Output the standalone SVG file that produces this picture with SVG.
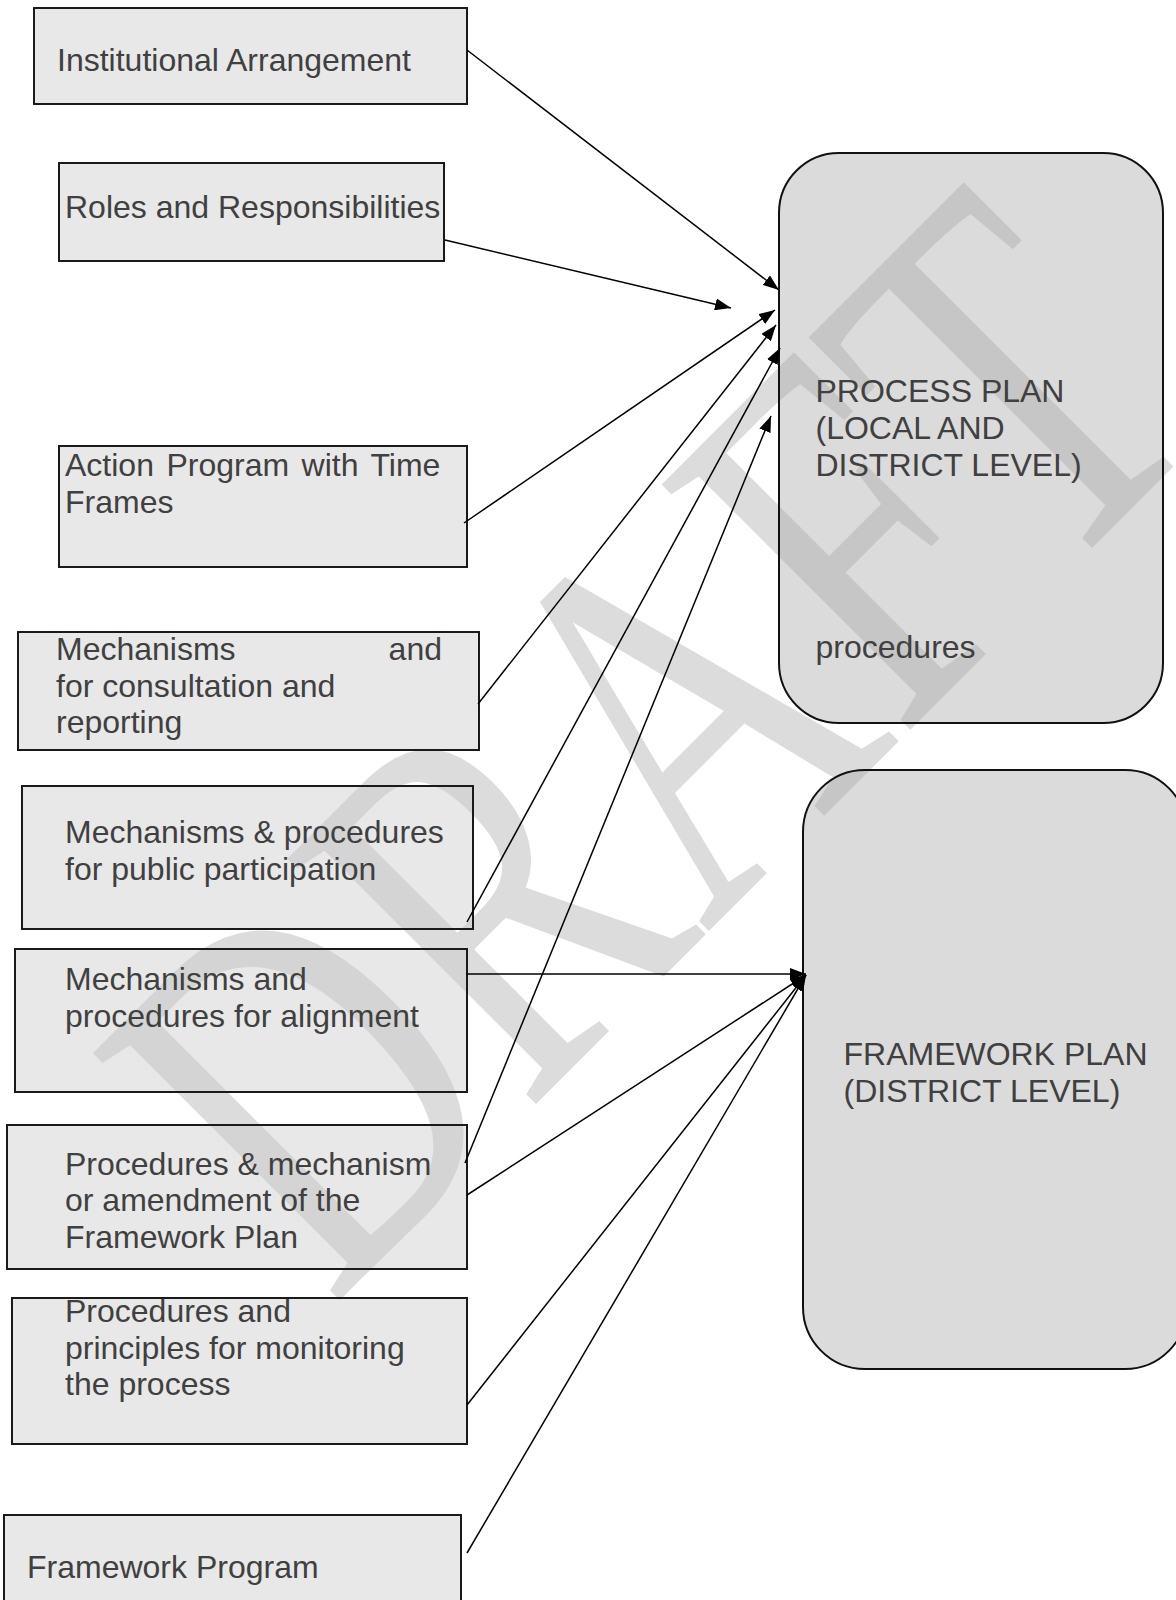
<svg xmlns="http://www.w3.org/2000/svg" width="1176" height="1600" viewBox="0 0 1176 1600">
<style>
.wm{font-family:"Liberation Serif","Times New Roman",serif;fill:#dcdcdc}
.box{fill:#cacaca;fill-opacity:0.43;stroke:#1a1a1a;stroke-width:2}
.plan{fill:#a5a5a5;fill-opacity:0.4;stroke:#111;stroke-width:2}
.t{font-family:"Liberation Sans",Arial,sans-serif;font-size:32px;fill:#404040}
.c{stroke:#000;stroke-width:1.5;fill:none}
</style>
<defs>
<marker id="ah" viewBox="0 0 16 12" refX="16" refY="6" markerWidth="16" markerHeight="12" markerUnits="userSpaceOnUse" orient="auto">
<path d="M0,0 L16,6 L0,12 z" fill="#000"/>
</marker>
</defs>
<rect width="1176" height="1600" fill="#fff"/>
<text class="wm" font-size="381" transform="translate(332,1308) rotate(-45) scale(1,1.4)">DRAFT</text>

<g id="n1"><rect class="box" x="34" y="8" width="433" height="96"/><text class="t" x="57" y="71">Institutional Arrangement</text></g>
<g id="n2"><rect class="box" x="59" y="163" width="385" height="98"/><text class="t" x="65" y="218">Roles and Responsibilities</text></g>
<g id="n3"><rect class="box" x="59" y="446" width="408" height="121"/><text class="t" x="65" y="476" word-spacing="3.6">Action Program with Time</text><text class="t" x="65" y="512.5">Frames</text></g>
<g id="n4"><rect class="box" x="18" y="632" width="461" height="118"/><text class="t" x="56" y="660">Mechanisms</text><text class="t" x="442" y="660" text-anchor="end">and</text><text class="t" x="56" y="697">for consultation and</text><text class="t" x="56" y="733">reporting</text></g>
<g id="n5"><rect class="box" x="22" y="786" width="451" height="143"/><text class="t" x="65" y="843">Mechanisms &amp; procedures</text><text class="t" x="65" y="880">for public participation</text></g>
<g id="n6"><rect class="box" x="15" y="949" width="452" height="143"/><text class="t" x="65" y="990">Mechanisms and</text><text class="t" x="65" y="1027">procedures for alignment</text></g>
<g id="n7"><rect class="box" x="7" y="1125" width="460" height="144"/><text class="t" x="65" y="1174.5">Procedures &amp; mechanism</text><text class="t" x="65" y="1211">or amendment of the</text><text class="t" x="65" y="1248">Framework Plan</text></g>
<g id="n8"><rect class="box" x="12" y="1298" width="455" height="146"/><text class="t" x="65" y="1321.5">Procedures and</text><text class="t" x="65" y="1358.5">principles for monitoring</text><text class="t" x="65" y="1395">the process</text></g>
<g id="n9"><rect class="box" x="4" y="1515" width="457" height="110"/><text class="t" x="27" y="1578">Framework Program</text></g>
<g id="process"><rect class="plan" x="779" y="153" width="384" height="570" rx="60" ry="60"/><text class="t" x="815.5" y="402">PROCESS PLAN</text><text class="t" x="815.5" y="439">(LOCAL AND</text><text class="t" x="815.5" y="476">DISTRICT LEVEL)</text><text class="t" x="815.5" y="658">procedures</text></g>
<g id="framework"><rect class="plan" x="803" y="770" width="384" height="599" rx="62" ry="62"/><text class="t" x="843.5" y="1065">FRAMEWORK PLAN</text><text class="t" x="843.5" y="1102">(DISTRICT LEVEL)</text></g>

<g id="connectors">
<line class="c" x1="467" y1="50" x2="779" y2="290" marker-end="url(#ah)"/>
<line class="c" x1="445" y1="240" x2="731" y2="308" marker-end="url(#ah)"/>
<line class="c" x1="464" y1="523" x2="775" y2="310" marker-end="url(#ah)"/>
<line class="c" x1="478" y1="704" x2="776" y2="325" marker-end="url(#ah)"/>
<line class="c" x1="467" y1="922" x2="780" y2="348" marker-end="url(#ah)"/>
<line class="c" x1="465" y1="1163" x2="771" y2="416" marker-end="url(#ah)"/>
<line class="c" x1="467" y1="974" x2="806" y2="974" marker-end="url(#ah)"/>
<line class="c" x1="467" y1="1195" x2="806" y2="975" marker-end="url(#ah)"/>
<line class="c" x1="467" y1="1405" x2="806" y2="975" marker-end="url(#ah)"/>
<line class="c" x1="467" y1="1553" x2="806" y2="975" marker-end="url(#ah)"/>
</g>
</svg>
